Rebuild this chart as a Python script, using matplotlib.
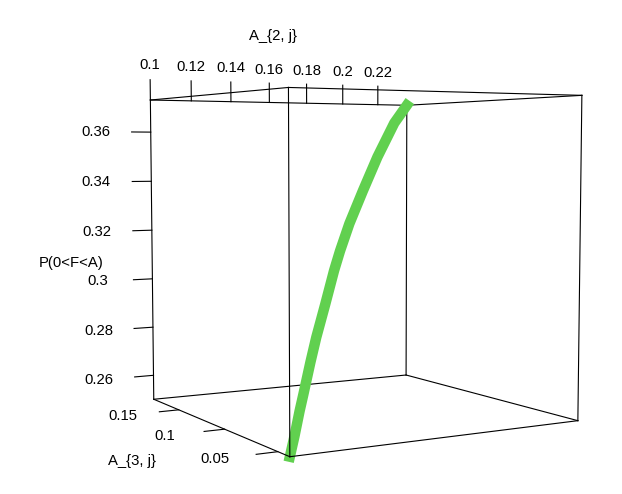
import numpy as np
import matplotlib.pyplot as plt

# curve
a2 = [0.1000, 0.1042, 0.1087, 0.1123, 0.1188, 0.1245, 0.1335, 0.1427,
      0.1490, 0.1595, 0.1758, 0.1943, 0.2179, 0.2370]
a3 = [0.0398, 0.0442, 0.0488, 0.0525, 0.0591, 0.0650, 0.0742, 0.0837,
      0.0901, 0.1009, 0.1177, 0.1367, 0.1610, 0.1806]
prob = [0.2500, 0.2559, 0.2633, 0.2685, 0.2784, 0.2862, 0.2969, 0.3081,
        0.3148, 0.3244, 0.3366, 0.3499, 0.3645, 0.3730]

x_ticks = [0.1, 0.12, 0.14, 0.16, 0.18, 0.2, 0.22]
y_ticks = [0.05, 0.1, 0.15]
z_ticks = [0.26, 0.28, 0.3, 0.32, 0.34, 0.36]

plt.rcParams['font.family'] = 'Liberation Sans'
fs = 10.7

fig = plt.figure(figsize=(6.22, 4.94), dpi=100)
ax = fig.add_axes([0.1661, -0.0297, 0.7942, 1.0], projection='3d',
                  computed_zorder=False)
ax.set_proj_type('persp', focal_length=0.509)
ax.view_init(elev=4.3, azim=-120)
ax.set_box_aspect((1, 1, 1), zoom=1.064)
ax.set_axis_off()

x0, x1 = min(a2), max(a2)
y0, y1 = min(a3), max(a3)
z0, z1 = min(prob), max(prob)
dx = (x1 - x0) / 15
dz = (z1 - z0) / 15

def seg(p, q, z=1):
    ax.plot([p[0], q[0]], [p[1], q[1]], [p[2], q[2]], color='black',
            lw=0.8, zorder=z, clip_on=False)

# box: edges touching the near corner (x0, y0) go over the curve
corners = [(x, y, z) for x in (x0, x1) for y in (y0, y1) for z in (z0, z1)]
for i, p in enumerate(corners):
    for q in corners[i + 1:]:
        if sum(a != b for a, b in zip(p, q)) == 1:
            near = (p[0] == x0 and p[1] == y0) or (q[0] == x0 and q[1] == y0)
            seg(p, q, 3 if near else 1)

ax.plot(a2, a3, prob, color='#61D04F', lw=7.5, solid_capstyle='projecting',
        solid_joinstyle='round', zorder=2, clip_on=False)

# x axis on the top edge
for t in x_ticks:
    seg((t, y1, z1), (t, y1, z1 + dz))
    ax.text(t, y1, z1 + 1.7 * dz, f'{t:g}', ha='center', va='center', fontsize=fs)
ax.text(x0 + 0.455 * (x1 - x0), y1, z1 + 3.45 * dz, 'A_{2, j}', ha='center',
        va='center', fontsize=fs)

# y axis on the bottom left edge
for t in y_ticks:
    seg((x0, t, z0), (x0 - dx, t, z0))
    ax.text(x0 - 2.85 * dx, t, z0, f'{t:g}', ha='center', va='center', fontsize=fs)
ax.text(x0 - 4 * dx, (y0 + y1) / 2, z0 - 1.2 * dz, 'A_{3, j}', ha='center',
        va='center', fontsize=fs)

# z axis on the left vertical edge
for t in z_ticks:
    seg((x0, y1, t), (x0 - dx, y1, t))
    ax.text(x0 - 2.85 * dx, y1, t, f'{t:g}', ha='center', va='center', fontsize=fs)
ax.text(x0 - 4.2 * dx, y1, z0 + 0.47 * (z1 - z0), 'P(0<F<A)', ha='center',
        va='center', fontsize=fs)

ax.set_xlim(x0, x1)
ax.set_ylim(y0, y1)
ax.set_zlim(z0, z1)

fig.savefig('out.png', dpi=100)
